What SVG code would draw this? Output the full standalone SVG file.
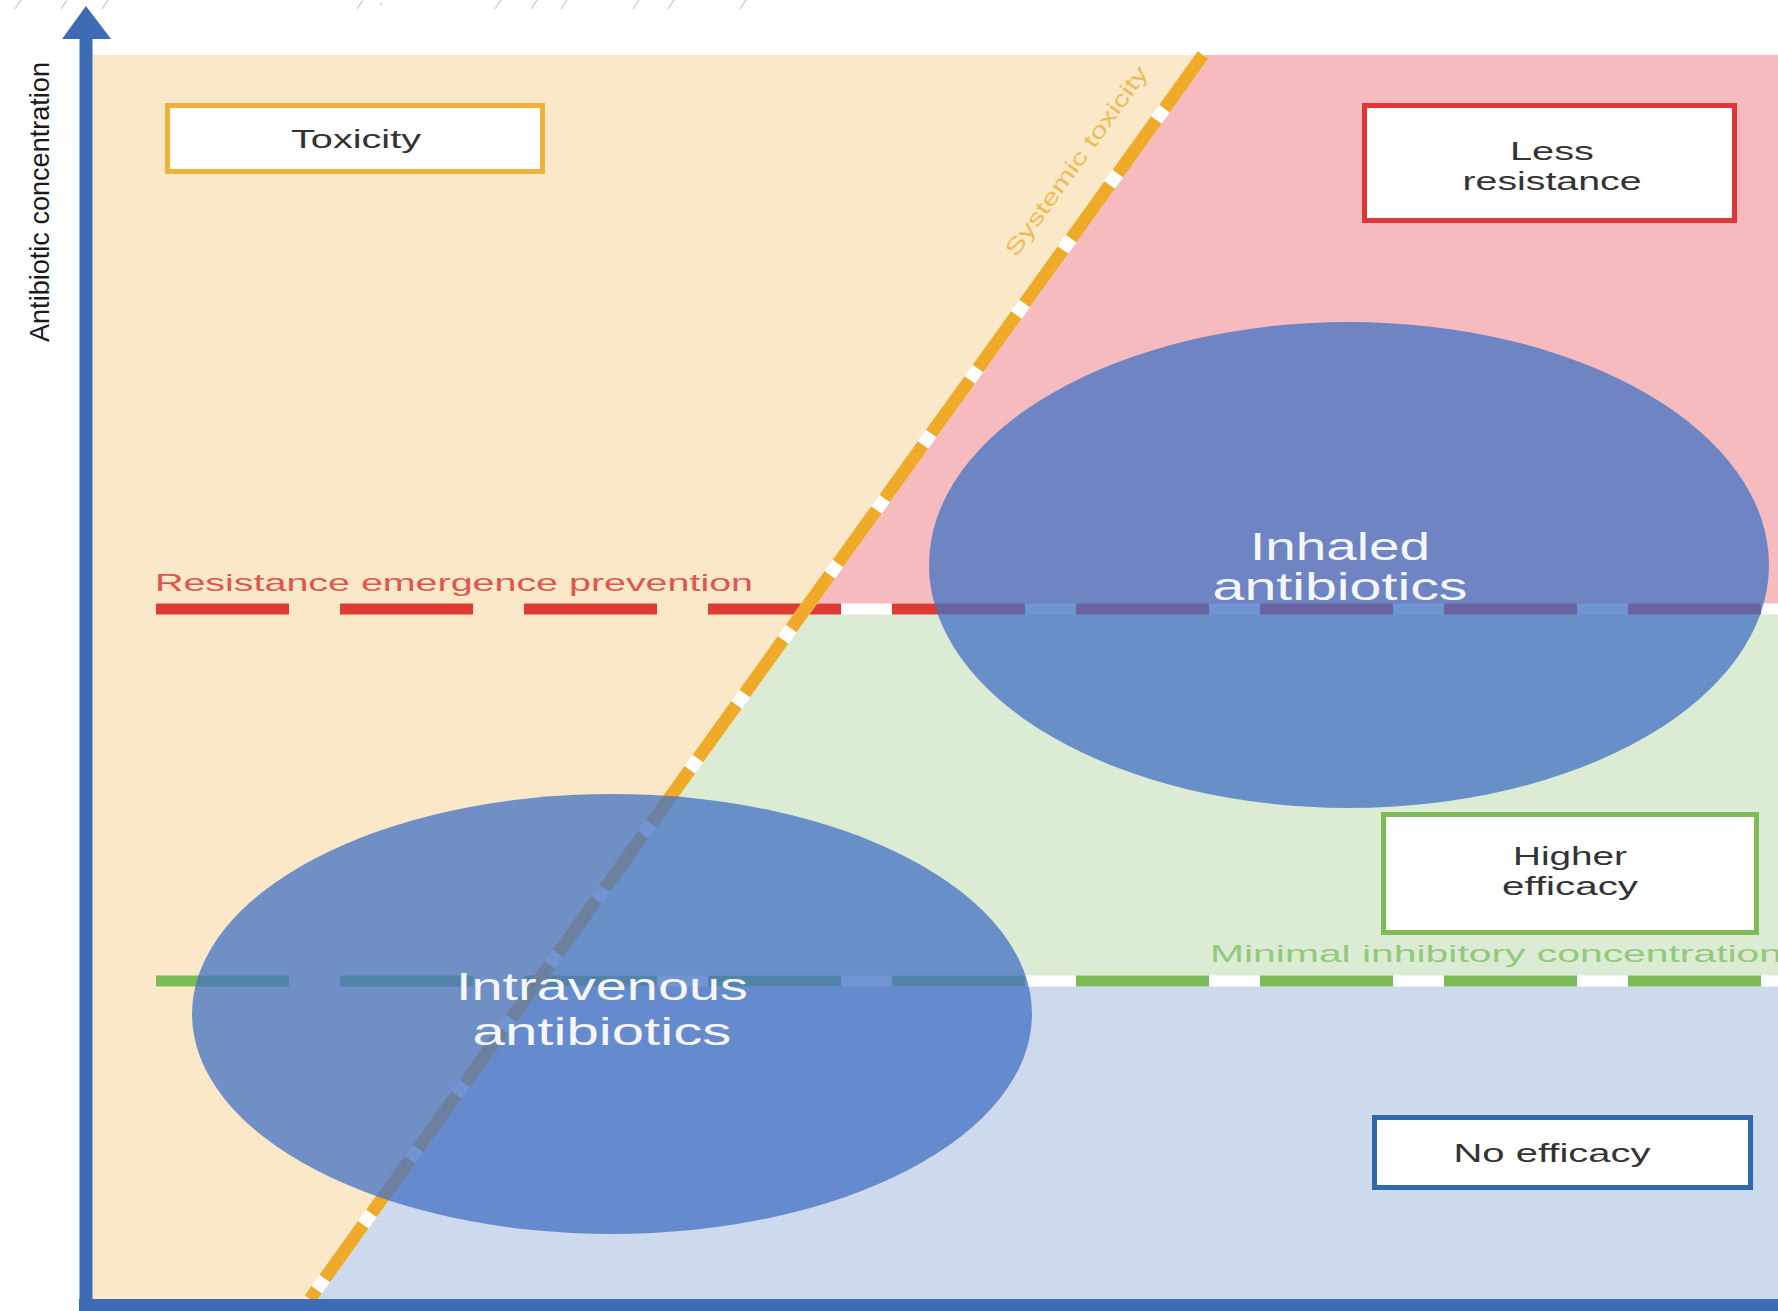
<svg xmlns="http://www.w3.org/2000/svg" width="1778" height="1311" viewBox="0 0 1778 1311">
  <style>
    .lbl { font-family: "Liberation Sans", Arial, sans-serif; fill: #333333; font-size: 25px; text-anchor: middle; }
    .big { font-family: "Liberation Sans", Arial, sans-serif; fill: #F4F6FB; font-size: 39px; text-anchor: middle; }
    .box { fill: #FFFFFF; stroke-width: 5; }
    .dash { fill: none; stroke-width: 11; stroke-dasharray: 133 51; }
    .band { fill: none; stroke: #FFFFFF; stroke-width: 11; }
    .blob { fill: #4472C4; fill-opacity: 0.76; }
    .axis { stroke: #3D6CB4; }
    .scratch { stroke: #C4C4C4; stroke-width: 1.2; }
  </style>
  <rect width="1778" height="1311" fill="#FFFFFF"/>

  <g id="scratches">
    <line class="scratch" x1="21" y1="0" x2="15" y2="9"/>
    <line class="scratch" x1="67" y1="0" x2="61" y2="9"/>
    <line class="scratch" x1="108" y1="0" x2="102" y2="9"/>
    <line class="scratch" x1="363" y1="0" x2="357" y2="9"/>
    <circle cx="381" cy="4" r="0.9" fill="#C4C4C4"/>
    <line class="scratch" x1="501" y1="0" x2="495" y2="9"/>
    <line class="scratch" x1="537" y1="0" x2="531" y2="9"/>
    <line class="scratch" x1="567" y1="0" x2="561" y2="9"/>
    <line class="scratch" x1="639" y1="0" x2="633" y2="9"/>
    <line class="scratch" x1="674" y1="0" x2="668" y2="9"/>
    <line class="scratch" x1="746" y1="0" x2="740" y2="9"/>
  </g>

  <g id="regions">
    <rect id="toxicity-zone" x="88" y="55" width="1690" height="1244" fill="#FAE8C8"/>
    <polygon id="resistance-zone" points="1203,55 1778,55 1778,609 805,609" fill="#F6BBBE"/>
    <polygon id="efficacy-zone" points="805,609 1778,609 1778,981 538,981" fill="#DCEBD4"/>
    <polygon id="no-efficacy-zone" points="538,981 1778,981 1778,1299 310,1299" fill="#CDD9EC"/>
  </g>

  <g id="connectors">
    <line class="band" x1="805" y1="609" x2="1778" y2="609"/>
    <line class="band" x1="538" y1="981" x2="1778" y2="981"/>
    <line id="resistance-line" class="dash" x1="156" y1="609" x2="1778" y2="609" stroke="#E03A35"/>
    <line id="mic-line" class="dash" x1="156" y1="981" x2="1778" y2="981" stroke="#7CBB55"/>
    <line x1="1203" y1="55" x2="310" y2="1299" stroke="#FFFFFF" stroke-width="13"/>
    <line id="toxicity-line" x1="1203" y1="55" x2="310" y2="1299" stroke="#EFAA2A" stroke-width="13" stroke-dasharray="66 14"/>
  </g>

  <g id="line-labels">
    <text x="155" y="591" font-family="Liberation Sans, Arial, sans-serif" font-size="24" fill="#E0564E" textLength="598" lengthAdjust="spacingAndGlyphs">Resistance emergence prevention</text>
    <text x="1210" y="962" font-family="Liberation Sans, Arial, sans-serif" font-size="24" fill="#93C97A" textLength="572" lengthAdjust="spacingAndGlyphs">Minimal inhibitory concentration</text>
    <text transform="translate(1016,258) rotate(-54.3)" x="0" y="0" font-family="Liberation Sans, Arial, sans-serif" font-size="22" fill="#F0BC55" textLength="228" lengthAdjust="spacingAndGlyphs">Systemic toxicity</text>
  </g>

  <g id="inhaled">
    <ellipse class="blob" cx="1349" cy="565" rx="420" ry="243"/>
    <text class="big" x="1340" y="560" textLength="180" lengthAdjust="spacingAndGlyphs">Inhaled</text>
    <text class="big" x="1340" y="600" textLength="255" lengthAdjust="spacingAndGlyphs">antibiotics</text>
  </g>

  <g id="intravenous">
    <ellipse class="blob" cx="612" cy="1014" rx="420" ry="220"/>
    <text class="big" x="602" y="1000" textLength="292" lengthAdjust="spacingAndGlyphs">Intravenous</text>
    <text class="big" x="602" y="1045" textLength="259" lengthAdjust="spacingAndGlyphs">antibiotics</text>
  </g>

  <g id="toxicity">
    <rect class="box" x="167.5" y="105.5" width="375" height="66" stroke="#F0B13A"/>
    <text class="lbl" x="356" y="148" textLength="130" lengthAdjust="spacingAndGlyphs">Toxicity</text>
  </g>

  <g id="less-resistance">
    <rect class="box" x="1364.5" y="105.5" width="370" height="115" stroke="#E0363A"/>
    <text class="lbl" x="1552" y="160" textLength="84" lengthAdjust="spacingAndGlyphs">Less</text>
    <text class="lbl" x="1552" y="190" textLength="179" lengthAdjust="spacingAndGlyphs">resistance</text>
  </g>

  <g id="higher-efficacy">
    <rect class="box" x="1383.5" y="814.5" width="373" height="118" stroke="#7DBB55"/>
    <text class="lbl" x="1570" y="865" textLength="114" lengthAdjust="spacingAndGlyphs">Higher</text>
    <text class="lbl" x="1570" y="895" textLength="136" lengthAdjust="spacingAndGlyphs">efficacy</text>
  </g>

  <g id="no-efficacy">
    <rect class="box" x="1374.5" y="1117.5" width="376" height="70" stroke="#2E69AD"/>
    <text class="lbl" x="1552" y="1162" textLength="197" lengthAdjust="spacingAndGlyphs">No efficacy</text>
  </g>

  <g id="axes">
    <line class="axis" x1="86" y1="34" x2="86" y2="1311" stroke-width="13"/>
    <line class="axis" x1="79" y1="1305" x2="1778" y2="1305" stroke-width="12"/>
    <polygon points="86,6 62,39 111,39" fill="#3D6CB4"/>
    <text transform="translate(49,342) rotate(-90)" x="0" y="0" font-family="Liberation Sans, Arial, sans-serif" font-size="28" fill="#1A1A1A" textLength="280" lengthAdjust="spacingAndGlyphs">Antibiotic concentration</text>
  </g>
</svg>
